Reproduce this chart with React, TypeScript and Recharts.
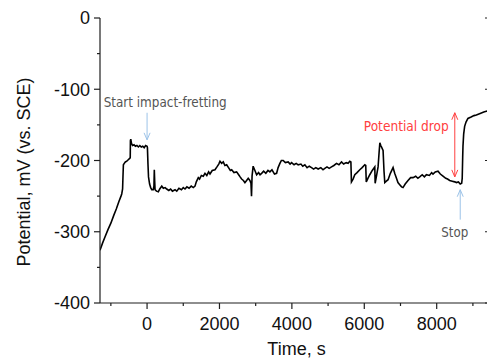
import { Line, LineChart, ReferenceDot, ReferenceLine, XAxis, YAxis } from "recharts";

// time (s) vs open-circuit potential (mV vs SCE)
const TIME_S = [
  -1300, -1230, -1160, -1080, -1000, -920, -850, -780, -720, -700, -690, -676, -665, -654, -630, -600, -560, -520,
  -480, -465, -460, -450, -430, -400, -360, -320, -280, -240, -200, -160, -120, -80, -40, 0, 10, 25, 40, 70, 100,
  130, 170, 190, 200, 210, 221, 260, 312, 350, 406, 450, 500, 543, 600, 650, 700, 772, 820, 880, 950, 1000, 1048,
  1100, 1160, 1220, 1277, 1324, 1360, 1415, 1450, 1500, 1553, 1600, 1650, 1700, 1738, 1800, 1876, 1930, 1980, 2014,
  2060, 2105, 2150, 2199, 2250, 2300, 2337, 2400, 2474, 2530, 2570, 2612, 2660, 2703, 2750, 2794, 2840, 2870, 2885,
  2900, 2930, 2979, 3026, 3080, 3120, 3164, 3220, 3280, 3340, 3393, 3450, 3520, 3578, 3620, 3669, 3710, 3760, 3820,
  3898, 3950, 3992, 4060, 4120, 4174, 4250, 4300, 4359, 4420, 4480, 4543, 4600, 4660, 4726, 4800, 4860, 4910, 4970,
  5030, 5095, 5160, 5233, 5300, 5371, 5430, 5500, 5553, 5600, 5630, 5645, 5690, 5738, 5800, 5876, 5940, 6014, 6040,
  6055, 6100, 6152, 6220, 6290, 6300, 6340, 6381, 6410, 6430, 6455, 6474, 6519, 6545, 6566, 6610, 6657, 6720, 6795,
  6840, 6889, 6930, 6979, 7030, 7070, 7130, 7208, 7280, 7346, 7420, 7480, 7531, 7600, 7660, 7716, 7800, 7860, 7898,
  7960, 8036, 8100, 8174, 8250, 8300, 8359, 8430, 8500, 8543, 8600, 8650, 8690, 8705, 8718, 8726, 8745, 8772, 8810,
  8863, 8950, 9030, 9095, 9200, 9300, 9371, 9450,
];

const POTENTIAL_MV = [
  -326, -316, -307, -297, -288, -277, -268, -258, -250, -247, -244, -240, -222, -206, -204, -202, -201, -199,
  -197, -196, -172, -170, -176, -179, -178, -180, -179, -181, -179, -181, -180, -182, -179, -180, -182, -205, -223,
  -233, -238, -241, -241, -236, -213, -228, -241, -243, -244, -240, -236, -239, -238, -240, -242, -240, -243, -241,
  -243, -239, -241, -238, -240, -237, -239, -236, -238, -236, -230, -224, -226, -221, -222, -218, -221, -216, -219,
  -214, -213, -209, -205, -201, -204, -202, -207, -206, -210, -214, -213, -217, -216, -220, -223, -226, -228, -231,
  -228, -225, -228, -232, -250, -222, -208, -214, -220, -217, -220, -218, -215, -218, -214, -216, -213, -219, -218,
  -210, -204, -200, -200, -203, -202, -205, -203, -206, -204, -206, -205, -208, -206, -210, -208, -210, -212, -210,
  -212, -210, -213, -211, -209, -211, -209, -207, -204, -206, -202, -205, -203, -204, -201, -202, -230, -226, -220,
  -217, -213, -210, -206, -207, -230, -225, -220, -214, -209, -232, -221, -209, -188, -175, -179, -181, -186, -215,
  -231, -229, -227, -218, -210, -218, -225, -231, -234, -237, -238, -233, -228, -224, -224, -222, -225, -223, -220,
  -223, -220, -221, -217, -219, -216, -215, -219, -222, -225, -226, -228, -229, -230, -231, -230, -233, -232, -225,
  -195, -180, -163, -152, -146, -141, -139, -137, -136, -134, -132, -131, -130,
];

const X_TICKS = [-1000, 0, 1000, 2000, 3000, 4000, 5000, 6000, 7000, 8000, 9000];
const X_LABELS = [0, 2000, 4000, 6000, 8000];
const Y_TICKS = [-400, -350, -300, -250, -200, -150, -100, -50, 0];
const Y_LABELS = [-400, -300, -200, -100, 0];

const data = TIME_S.map((t, i) => ({ t, v: POTENTIAL_MV[i] }));

const AXIS = "#1f1f1f";
const FONT = "'Liberation Sans', Arial, sans-serif";
const NOTE_FONT = "'Liberation Sans Narrow', 'DejaVu Sans Condensed', 'Noto Sans', sans-serif";
const BLUE = "#9cc3e8";
const RED = "#ff4040";
const GRAY = "#555555";

function BottomTick({ x, y, payload }: any) {
  const major = X_LABELS.includes(payload.value);
  return (
    <g>
      <line x1={x} y1={y} x2={x} y2={y + (major ? 6 : 3)} stroke={AXIS} strokeWidth={1.2} />
      {major ? (
        <text x={x} y={y + 26.5} textAnchor="middle" fontSize={18} fontFamily={FONT} fill="#111">
          {payload.value}
        </text>
      ) : null}
    </g>
  );
}

function TopTick({ x, y, payload }: any) {
  const major = X_LABELS.includes(payload.value);
  return <line x1={x} y1={y} x2={x} y2={y + (major ? 6 : 3)} stroke={AXIS} strokeWidth={1.2} />;
}

function LeftTick({ x, y, payload }: any) {
  const major = Y_LABELS.includes(payload.value);
  return (
    <g>
      <line x1={x - (major ? 6 : 3)} y1={y} x2={x} y2={y} stroke={AXIS} strokeWidth={1.2} />
      {major ? (
        <text x={x - 10} y={y} dy="0.36em" textAnchor="end" fontSize={18} fontFamily={FONT} fill="#111">
          {payload.value}
        </text>
      ) : null}
    </g>
  );
}

function RightTick({ x, y, payload }: any) {
  const major = Y_LABELS.includes(payload.value);
  return <line x1={x - (major ? 6 : 3)} y1={y} x2={x} y2={y} stroke={AXIS} strokeWidth={1.2} />;
}

// vertical arrow drawn by a ReferenceLine segment; the head sits at the second point
function arrow(color: string, both: boolean) {
  return (p: any) => {
    const { x1, y1, x2, y2 } = p;
    const head = (tx: number, ty: number, fromY: number) => {
      const s = ty > fromY ? 1 : -1;
      return (
        <polyline
          points={`${tx - 3},${ty - s * 7} ${tx},${ty} ${tx + 3},${ty - s * 7}`}
          fill="none"
          stroke={color}
          strokeWidth={1}
        />
      );
    };
    return (
      <g>
        <line x1={x1} y1={y1} x2={x2} y2={y2} stroke={color} strokeWidth={1} />
        {head(x2, y2, y1)}
        {both ? head(x1, y1, y2) : null}
      </g>
    );
  };
}

function note(text: string, color: string, width: number) {
  return (p: any) => (
    <text
      x={p.cx}
      y={p.cy}
      dy="0.35em"
      textAnchor="middle"
      fontSize={14}
      fontFamily={NOTE_FONT}
      fill={color}
      textLength={width}
      lengthAdjust="spacingAndGlyphs"
    >
      {text}
    </text>
  );
}

export default function App() {
  return (
    <div style={{ width: 487, height: 359, overflow: "hidden", background: "#fff" }}>
      <style>{"body{margin:0;overflow:hidden}"}</style>
      <LineChart width={510} height={359} data={data} margin={{ top: 18, right: 18, bottom: 0, left: 0 }}>
        <XAxis
          dataKey="t"
          type="number"
          domain={[-1300, 9500]}
          ticks={X_TICKS}
          interval={0}
          allowDataOverflow
          height={56}
          tickSize={0}
          tickMargin={0}
          tickLine={false}
          tick={BottomTick}
          axisLine={{ stroke: AXIS, strokeWidth: 1.2 }}
          label={(p: any) => (
            <text
              x={p.viewBox.x + p.viewBox.width / 2 + 1}
              y={p.viewBox.y + 52}
              textAnchor="middle"
              fontSize={18}
              fontFamily={FONT}
              fill="#111"
            >
              Time, s
            </text>
          )}
        />
        <XAxis
          xAxisId="top"
          orientation="top"
          dataKey="t"
          type="number"
          domain={[-1300, 9500]}
          ticks={X_TICKS}
          interval={0}
          allowDataOverflow
          height={0}
          tickSize={0}
          tickMargin={0}
          tickLine={false}
          tick={TopTick}
          axisLine={{ stroke: AXIS, strokeWidth: 1.2 }}
        />
        <YAxis
          type="number"
          domain={[-400, 0]}
          ticks={Y_TICKS}
          interval={0}
          allowDataOverflow
          width={100}
          tickSize={0}
          tickMargin={0}
          tickLine={false}
          tick={LeftTick}
          axisLine={{ stroke: AXIS, strokeWidth: 1.2 }}
          label={(p: any) => (
            <text
              x={p.viewBox.x + 24}
              y={p.viewBox.y + p.viewBox.height / 2 + 11.5}
              dy="0.35em"
              textAnchor="middle"
              fontSize={18}
              fontFamily={FONT}
              fill="#111"
              transform={`rotate(-90 ${p.viewBox.x + 24} ${p.viewBox.y + p.viewBox.height / 2 + 11.5})`}
            >
              Potential, mV (vs. SCE)
            </text>
          )}
        />
        <YAxis
          yAxisId="right"
          orientation="right"
          type="number"
          domain={[-400, 0]}
          ticks={Y_TICKS}
          interval={0}
          allowDataOverflow
          width={1}
          tickSize={0}
          tickMargin={0}
          tickLine={false}
          tick={RightTick}
          axisLine={{ stroke: AXIS, strokeWidth: 1.2 }}
        />
        <Line
          type="linear"
          dataKey="v"
          stroke="#000"
          strokeWidth={1.6}
          dot={false}
          activeDot={false}
          isAnimationActive={false}
        />
        <ReferenceLine segment={[{ x: 0, y: -133 }, { x: 0, y: -171 }]} shape={arrow(BLUE, false)} />
        <ReferenceLine segment={[{ x: 8500, y: -133 }, { x: 8500, y: -223 }]} shape={arrow(RED, true)} />
        <ReferenceLine segment={[{ x: 8650, y: -283 }, { x: 8650, y: -241 }]} shape={arrow(BLUE, false)} />
        <ReferenceDot x={500} y={-118} r={0} shape={note("Start impact-fretting", GRAY, 123)} />
        <ReferenceDot x={7160} y={-152} r={0} shape={note("Potential drop", RED, 85)} />
        <ReferenceDot x={8500} y={-300} r={0} shape={note("Stop", GRAY, 27)} />
      </LineChart>
    </div>
  );
}
